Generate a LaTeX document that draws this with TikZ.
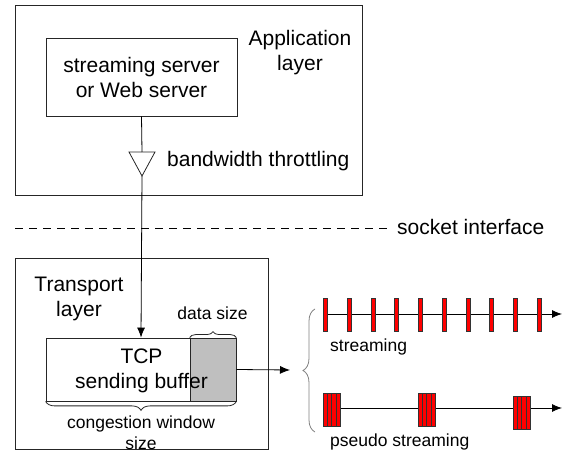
\documentclass[tikz,border=0pt]{standalone}
\usepackage{fontspec}
\setmainfont{Liberation Sans}
\usetikzlibrary{arrows.meta,decorations.pathreplacing,calc}
\begin{document}
\begin{tikzpicture}[x=1pt,y=-1pt,
  box/.style={draw=black!85, line width=0.8pt, inner sep=0pt},
  big/.style={font=\fontsize{21}{25}\selectfont, align=center, inner sep=0pt},
  small/.style={font=\fontsize{17.5}{21}\selectfont, align=center, inner sep=0pt},
  conn/.style={line width=0.8pt},
  arr/.style={line width=0.8pt, -{Latex[length=10pt,width=8pt]}},
  tick/.style={draw=black!80, fill=red, line width=0.4pt},
  brc/.style={decorate, decoration={brace, amplitude=#1}, line width=0.8pt}
]
\useasboundingbox (0,0) rectangle (566,454);
% application layer
\node[box, minimum width=347pt, minimum height=190pt] (app) at (188.5,100) {};
\node[box, minimum width=191pt, minimum height=78pt] (server) at (141.5,77) {};
\node[big] (servertxt) at (141.5,77) {streaming server\\or Web server};
\node[big] (applbl) at (300,53) {Application\\layer};
% throttle triangle
\coordinate (thrtop) at (142,152);
\coordinate (thrbot) at (142,176);
\draw[conn, draw=black!85] (129,152) -- (155,152) -- (thrbot) -- cycle;
\node[big, anchor=west] (thrlbl) at (167,161) {bandwidth throttling};
% socket interface
\coordinate (sockL) at (15,228);
\coordinate (sockR) at (390,228);
\draw[conn, dash pattern=on 8pt off 6pt] (sockL) -- (sockR);
\node[big, anchor=west] (socklbl) at (397,227) {socket interface};
% transport layer
\node[box, minimum width=253pt, minimum height=191pt] (trans) at (141.5,353.5) {};
\node[big] (translbl) at (79,298.5) {Transport\\layer};
% buffer
\node[box, minimum width=190pt, minimum height=63pt] (buffer) at (141,369.5) {};
\node[box, fill=black!25, minimum width=46pt, minimum height=63pt] (data) at (213,369.5) {};
\node[big] (buftxt) at (141.5,371) {TCP\\sending buffer};
\draw[brc=6pt, draw=black!85] (data.north west) -- (data.north east);
\node[small] (datalbl) at (212.5,313) {data size};
\draw[brc=9pt, draw=black!85] (buffer.south east) -- (buffer.south west);
\node[small] (cwndlbl) at (141,433) {congestion window\\size};
% connectors
\draw[conn] (server.south) -- (thrtop);
\draw[arr] (thrbot) -- (buffer.north);
\coordinate (outend) at (290,370);
\draw[arr] (data.east) -- (outend);
% big brace
\coordinate (brB) at (315,432);
\coordinate (brT) at (315,309);
\draw[brc=12pt, draw=black!50] (brB) -- (brT);
% streaming
\coordinate (s0) at (324,314);
\coordinate (s1) at (562,314);
\draw[arr] (s0) -- (s1);
\foreach \i in {0,...,9}{
  \node[tick, minimum width=4pt, minimum height=33pt, inner sep=0pt] (t\i) at ({325.5+23.7*\i},314.5) {};
}
\node[small, anchor=west] (strlbl) at (330,347) {streaming};
% pseudo streaming
\coordinate (p0) at (324,408);
\coordinate (p1) at (562,408);
\draw[arr] (p0) -- (p1);
\foreach \n/\x/\y in {b1/331.5/409.5, b2/426.5/409.5, b3/521.5/413}{
  \node[tick, minimum width=17pt, minimum height=33pt, inner sep=0pt] (\n) at (\x,\y) {};
  \foreach \k in {1,2,3}{
    \draw[black!80, line width=0.4pt] ($(\n.north west)!\k/4!(\n.north east)$) -- ($(\n.south west)!\k/4!(\n.south east)$);
  }
}
\node[small, anchor=west] (pslbl) at (330,442) {pseudo streaming};
\end{tikzpicture}
\end{document}
